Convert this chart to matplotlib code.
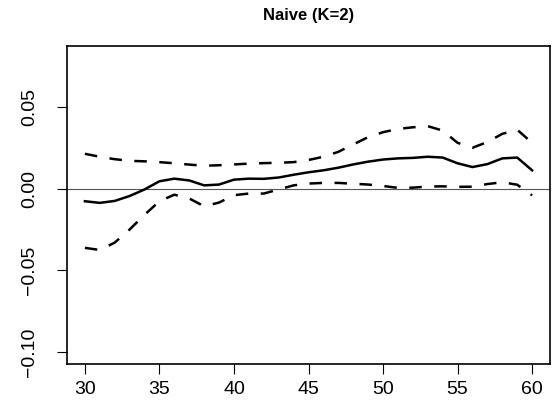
import numpy as np
import matplotlib
matplotlib.use("Agg")
import matplotlib.pyplot as plt

plt.rcParams['font.family'] = ['Liberation Sans', 'DejaVu Sans']

# ages on the x axis
age = list(range(30, 61))

# estimate (solid)
est = [-0.0077, -0.0087, -0.0075, -0.0045, -0.0005, 0.0045, 0.0061, 0.0050,
       0.0020, 0.0025, 0.0055, 0.0061, 0.0060, 0.0068, 0.0085, 0.0100,
       0.0112, 0.0128, 0.0148, 0.0165, 0.0178, 0.0185, 0.0188, 0.0195,
       0.0190, 0.0155, 0.0132, 0.0150, 0.0185, 0.0190, 0.0112]

# upper band (dashed)
upper = [0.0213, 0.0195, 0.0180, 0.0170, 0.0167, 0.0162, 0.0155, 0.0147,
         0.0140, 0.0143, 0.0148, 0.0153, 0.0156, 0.0158, 0.0162, 0.0175,
         0.0195, 0.0225, 0.0270, 0.0315, 0.0345, 0.0365, 0.0375, 0.0382,
         0.0355, 0.0280, 0.0250, 0.0285, 0.0335, 0.0360, 0.0280]

# lower band (dashed)
lower = [-0.0362, -0.0375, -0.0330, -0.0250, -0.0160, -0.0077, -0.0037, -0.0060,
         -0.0108, -0.0085, -0.0040, -0.0030, -0.0030, -0.0005, 0.0020, 0.0031,
         0.0035, 0.0035, 0.0030, 0.0025, 0.0016, 0.0005, 0.0006, 0.0013,
         0.0014, 0.0011, 0.0012, 0.0028, 0.0039, 0.0024, -0.0041]

xticks = [30, 35, 40, 45, 50, 55, 60]
yticks = [-0.10, -0.05, 0.00, 0.05]
ylabels = ['\u22120.10', '\u22120.05', '0.00', '0.05']

fig = plt.figure(figsize=(5.56, 4.01), dpi=100)
ax = fig.add_axes([67/556, 1-364/401, (550-67)/556, (364-46)/401])

ax.axhline(0, color='#555555', lw=0.8)
ax.plot(age, est, color='black', lw=1.8)
ax.plot(age, upper, color='black', lw=1.8, dashes=(5, 5))
ax.plot(age, lower, color='black', lw=1.8, dashes=(5, 5))

ax.set_xlim(28.8, 61.2)
ax.set_ylim(-0.1072, 0.0872)
ax.set_xticks(xticks)
ax.set_xticklabels([str(t) for t in xticks], fontsize=14)
ax.set_yticks(yticks)
ax.set_yticklabels(ylabels, fontsize=14, rotation=90, va='center')
ax.tick_params(direction='out', length=7, width=0.8)
ax.tick_params(axis='x', pad=5)
ax.tick_params(axis='y', pad=14)

for s in ax.spines.values():
    s.set_linewidth(1.2)

ax.set_title('Naive (K=2)', fontsize=12, fontweight='bold', pad=19)

fig.savefig('out.png', dpi=100)
